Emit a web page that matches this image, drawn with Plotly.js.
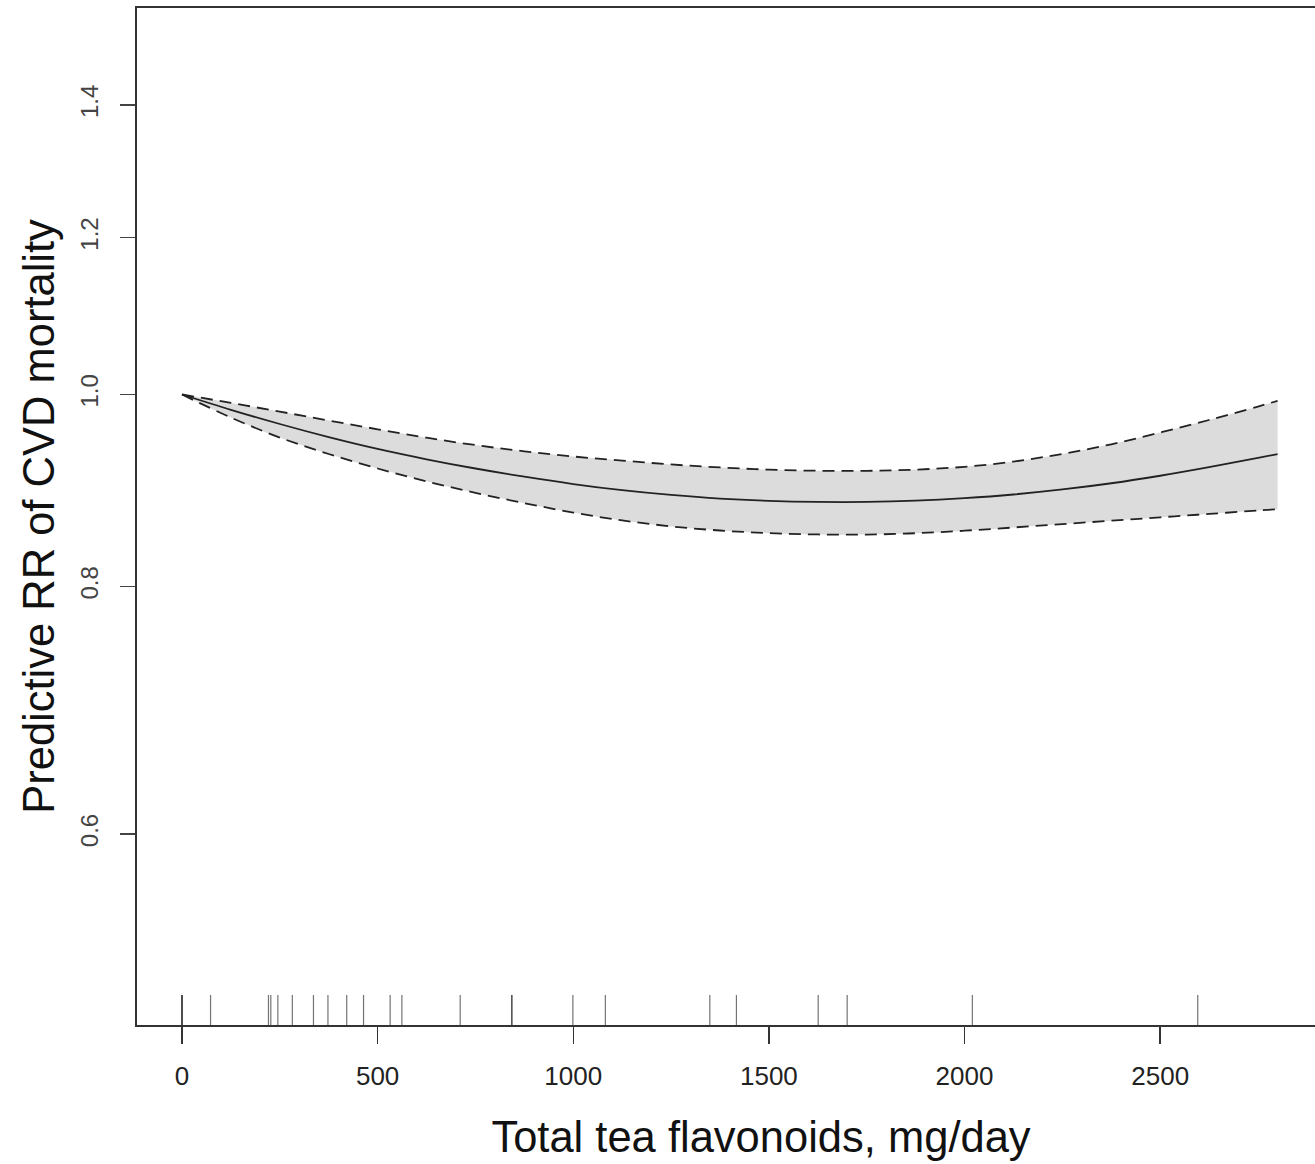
<!DOCTYPE html>
<html>
<head>
<meta charset="utf-8">
<script src="https://cdn.plot.ly/plotly-3.0.1.min.js"></script>
<style>
html,body{margin:0;padding:0;overflow:hidden;background:#fff;}
#chart{width:1390px;height:1164px;}
</style>
</head>
<body>
<div id="chart"></div>
<script>
// Total tea flavonoids (mg/day)
const flavonoids = [0, 125, 250, 375, 500, 625, 750, 875, 1000, 1125, 1250, 1375, 1500,
                    1625, 1750, 1875, 2000, 2125, 2250, 2375, 2500, 2625, 2750, 2800];
// Predicted relative risk of CVD mortality
const rr      = [1.000, 0.9824, 0.9663, 0.9517, 0.9387, 0.9275, 0.9176, 0.9089, 0.9012, 0.8948, 0.8898, 0.8860, 0.8837,
                 0.8826, 0.8826, 0.8839, 0.8865, 0.8903, 0.8955, 0.9020, 0.9099, 0.9190, 0.9290, 0.9331];
const rrUpper = [1.000, 0.9903, 0.9803, 0.9702, 0.9604, 0.9510, 0.9429, 0.9361, 0.9305, 0.9261, 0.9219, 0.9187, 0.9164,
                 0.9152, 0.9151, 0.9164, 0.9194, 0.9250, 0.9333, 0.9438, 0.9568, 0.9708, 0.9861, 0.9927];
const rrLower = [1.000, 0.9736, 0.9512, 0.9332, 0.9176, 0.9040, 0.8920, 0.8814, 0.8718, 0.8639, 0.8579, 0.8538, 0.8512,
                 0.8499, 0.8498, 0.8511, 0.8536, 0.8568, 0.8602, 0.8636, 0.8670, 0.8704, 0.8739, 0.8752];
// Rug: observed intake values (duplicates overlap)
const rugValues = [0, 0, 0, 73, 221, 227, 245, 282, 336, 373, 421, 464, 532, 562, 711, 843, 843, 999, 1082, 1349, 1417, 1626, 1700, 2020, 2596];
// Axis ticks
const yTickVals = [0.6, 0.8, 1.0, 1.2, 1.4];
const yTickText = ['0.6', '0.8', '1.0', '1.2', '1.4'];
const xTickVals = [0, 500, 1000, 1500, 2000, 2500];
const xTickText = ['0', '500', '1000', '1500', '2000', '2500'];

const dashStyle = '12px,7px';
const curveLine = {color: '#222', width: 1.8, shape: 'spline', smoothing: 1};

const traces = [
  {x: flavonoids, y: rrLower, mode: 'lines', line: {width: 0, color: 'rgba(0,0,0,0)', shape: 'spline', smoothing: 1}, hoverinfo: 'skip', showlegend: false},
  {x: flavonoids, y: rrUpper, mode: 'lines', line: {width: 0, color: 'rgba(0,0,0,0)', shape: 'spline', smoothing: 1}, fill: 'tonexty', fillcolor: '#dcdcdc', hoverinfo: 'skip', showlegend: false},
  {x: flavonoids, y: rrLower, mode: 'lines', line: Object.assign({}, curveLine, {dash: dashStyle}), showlegend: false},
  {x: flavonoids, y: rrUpper, mode: 'lines', line: Object.assign({}, curveLine, {dash: dashStyle}), showlegend: false},
  {x: flavonoids, y: rr, mode: 'lines', line: curveLine, showlegend: false}
];

const rugShapes = rugValues.map(v => ({
  type: 'line', xref: 'x', yref: 'y domain',
  x0: v, x1: v, y0: 0, y1: 0.0295,
  line: {color: 'rgba(0,0,0,0.55)', width: 1.2}
}));

const layout = {
  width: 1390, height: 1164,
  margin: {l: 137, r: 5, t: 8, b: 139},
  paper_bgcolor: '#fff', plot_bgcolor: '#fff',
  font: {family: 'Liberation Sans, Arial, sans-serif', color: '#222'},
  showlegend: false,
  xaxis: {
    range: [-115, 3074.6],
    tickvals: xTickVals, ticktext: xTickText,
    ticks: 'outside', ticklen: 17, tickwidth: 1.5, tickcolor: '#333',
    ticklabelstandoff: 10,
    tickfont: {size: 26, color: '#222'},
    showline: true, linecolor: '#333', linewidth: 2, mirror: true,
    showgrid: false, zeroline: false,
    title: {text: 'Total tea flavonoids, mg/day', font: {size: 43.5, color: '#111'}, standoff: 31}
  },
  yaxis: {
    type: 'log',
    range: [Math.log10(0.4806), Math.log10(1.567)],
    tickvals: yTickVals, ticktext: yTickText,
    tickangle: -90,
    ticks: 'outside', ticklen: 15, tickwidth: 1.5, tickcolor: '#444',
    ticklabelstandoff: 12,
    tickfont: {size: 24, color: '#444'},
    showline: true, linecolor: '#333', linewidth: 2, mirror: true,
    showgrid: false, zeroline: false,
    title: {text: 'Predictive RR of CVD mortality', font: {size: 43.5, color: '#111'}, standoff: 8}
  },
  shapes: rugShapes
};

Plotly.newPlot('chart', traces, layout, {staticPlot: true, displayModeBar: false});
</script>
</body>
</html>
